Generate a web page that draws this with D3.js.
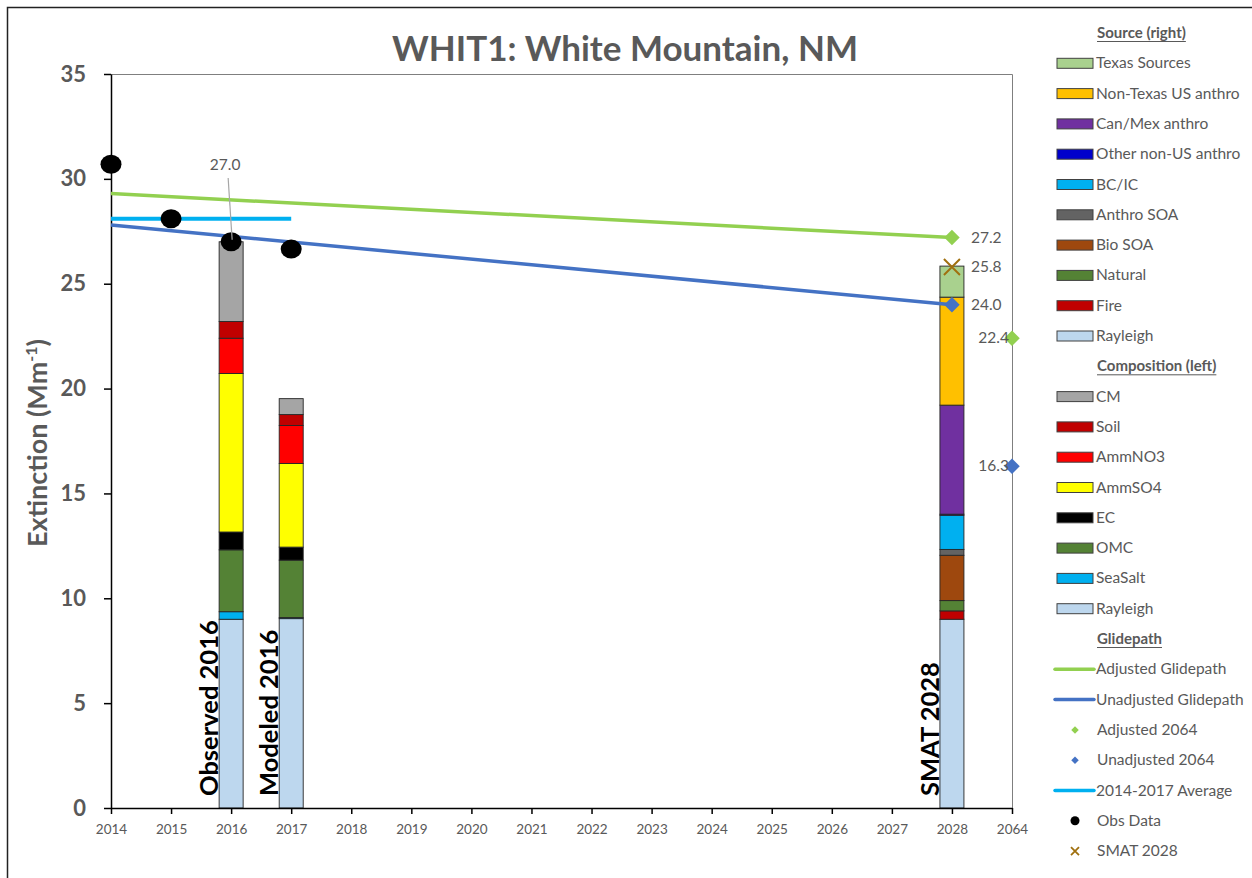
<!DOCTYPE html>
<html><head><meta charset="utf-8">
<script src="https://cdn.jsdelivr.net/npm/d3@7"></script>
<style>body{margin:0;background:#fff;} svg{display:block;} text{font-family:Lato,"Open Sans",sans-serif;}</style>
</head><body><svg id="c" width="1252" height="878"></svg>
<script>
// ---- data ----
const categories = ["2014","2015","2016","2017","2018","2019","2020","2021","2022","2023","2024","2025","2026","2027","2028","2064"];
const yTicks = [0,5,10,15,20,25,30,35];

const compNames = ["Rayleigh","SeaSalt","OMC","EC","AmmSO4","AmmNO3","Soil","CM"];
const compColors = ["#BDD7EE","#00B0F0","#548235","#000000","#FFFF00","#FF0000","#C00000","#A5A5A5"];
const observed2016 = [9.0, 0.36, 2.95, 0.85, 7.56, 1.68, 0.8, 3.8];
const modeled2016 = [9.03, 0.05, 2.74, 0.62, 3.99, 1.81, 0.52, 0.76];

const srcNames = ["Rayleigh","Fire","Natural","Bio SOA","Anthro SOA","BC/IC","Other non-US anthro","Can/Mex anthro","Non-Texas US anthro","Texas Sources"];
const srcColors = ["#BDD7EE","#C00000","#548235","#9E480E","#636363","#00B0F0","#0000CC","#7030A0","#FFC000","#A9D18E"];
const smat2028 = [9.0, 0.4, 0.49, 2.16, 0.28, 1.63, 0.05, 5.2, 5.15, 1.48];

const barCats = ["2016","2017","2028"];
const barLabels = ["Observed 2016","Modeled 2016","SMAT 2028"];

const obsYears = ["2014","2015","2016","2017"];
const obsValues = [30.7, 28.1, 27.0, 26.65];

const avgYears = ["2014","2017"];
const avgValues = [28.1, 28.1];

const glideYears = ["2014","2028"];
const adjustedGlide = [29.3, 27.2];
const unadjustedGlide = [27.8, 24.0];

const adjusted2064 = 22.4;
const unadjusted2064 = 16.3;
const smatTotal = 25.8;

// ---- setup ----
const svg = d3.select("#c");
const gray = "#595959";
const x = d3.scalePoint().domain(categories).range([111, 1012]);
const y = d3.scaleLinear().domain([0, 35]).range([808, 74]);

// outer frame (left/top visible)
svg.append("path").attr("d","M7.5,878 V7.5 H1252").attr("fill","none").attr("stroke","#222").attr("stroke-width",1.5);

// title
svg.append("text").attr("x",625).attr("y",61).attr("text-anchor","middle")
  .attr("font-size",35).attr("font-weight","bold").attr("fill",gray).text("WHIT1: White Mountain, NM");

// plot border top and right
svg.append("path").attr("d",`M${x("2014")},${y(35)+0.5} H${x("2064")+0.5} V${y(0)}`).attr("fill","none").attr("stroke","#7f7f7f").attr("stroke-width",1);

// bars
const bw = 24;
function stack(vals){ let c=0; return vals.map(v=>{const s={y0:c,y1:c+v}; c+=v; return s;}); }
const barData = [
  {cat:"2016", vals:observed2016, colors:compColors},
  {cat:"2017", vals:modeled2016, colors:compColors},
  {cat:"2028", vals:smat2028, colors:srcColors}
];
barData.forEach(b=>{
  const st = stack(b.vals);
  svg.append("g").selectAll("rect").data(st).join("rect")
    .attr("x", x(b.cat)-bw/2).attr("width", bw)
    .attr("y", d=>y(d.y1)).attr("height", d=>y(d.y0)-y(d.y1))
    .attr("fill", (d,i)=>b.colors[i]).attr("stroke","#262626").attr("stroke-width",0.9);
});

// rotated bar labels
barCats.forEach((c,i)=>{
  svg.append("text").attr("transform",`translate(${x(c)-13},796) rotate(-90)`)
    .attr("font-size",25.5).attr("font-weight","bold").attr("fill","#000").text(barLabels[i]);
});

// axes
const yAxis = d3.axisLeft(y).tickValues(yTicks).tickSize(7).tickSizeOuter(0);
const gy = svg.append("g").attr("transform",`translate(${x("2014")},0)`).call(yAxis);
gy.select(".domain").attr("stroke","#000").attr("stroke-width",1.5);
gy.selectAll(".tick line").attr("stroke","#000").attr("stroke-width",1.5);
gy.selectAll(".tick text").attr("font-size",22).attr("font-weight","bold").attr("fill",gray).attr("x",-25).attr("font-family","Lato,sans-serif");

const xAxis = d3.axisBottom(x).tickSize(6).tickSizeOuter(0);
const gx = svg.append("g").attr("transform",`translate(0,${y(0)})`).call(xAxis);
gx.select(".domain").attr("stroke","#000").attr("stroke-width",1.5);
gx.selectAll(".tick line").attr("stroke","#000").attr("stroke-width",1.5);
gx.selectAll(".tick text").attr("font-size",13.5).attr("fill",gray).attr("dy","1.25em").attr("font-family","Lato,sans-serif");

// y axis title
const yt = svg.append("text").attr("transform","translate(47,443) rotate(-90)").attr("text-anchor","middle")
  .attr("font-size",27).attr("font-weight","bold").attr("fill",gray);
yt.append("tspan").text("Extinction (Mm");
yt.append("tspan").attr("font-size",16).attr("dy",-10).text("-1");
yt.append("tspan").attr("dy",10).text(")");

// lines
const line = d3.line().x(d=>x(d[0])).y(d=>y(d[1]));
svg.append("path").datum(glideYears.map((c,i)=>[c,adjustedGlide[i]])).attr("d",line)
  .attr("fill","none").attr("stroke","#92D050").attr("stroke-width",3.5);
svg.append("path").datum(glideYears.map((c,i)=>[c,unadjustedGlide[i]])).attr("d",line)
  .attr("fill","none").attr("stroke","#4472C4").attr("stroke-width",3.5);
svg.append("path").datum(avgYears.map((c,i)=>[c,avgValues[i]])).attr("d",line)
  .attr("fill","none").attr("stroke","#00B0F0").attr("stroke-width",4);

function diam(cx, cy, size, color){
  svg.append("path").attr("d", d3.symbol().type(d3.symbolSquare).size(size)()).attr("transform",`translate(${cx},${cy}) rotate(45)`).attr("fill",color);
}
diam(x("2028"), y(adjustedGlide[1]), 120, "#92D050");
diam(x("2028"), y(unadjustedGlide[1]), 120, "#4472C4");
diam(x("2064"), y(adjusted2064), 120, "#92D050");
diam(x("2064"), y(unadjusted2064), 120, "#4472C4");

// SMAT x marker
const sx = x("2028"), sy = y(smatTotal);
svg.append("path").attr("d",`M${sx-8},${sy-8}L${sx+8},${sy+8}M${sx+8},${sy-8}L${sx-8},${sy+8}`)
  .attr("stroke","#A0700F").attr("stroke-width",2);

// obs data points
svg.append("g").selectAll("ellipse").data(obsYears.map((c,i)=>[c,obsValues[i]])).join("ellipse")
  .attr("cx",d=>x(d[0])).attr("cy",d=>y(d[1])).attr("rx",10.5).attr("ry",9.5).attr("fill","#000");

// data labels
svg.append("line").attr("x1",x("2016")-3).attr("y1",178).attr("x2",x("2016")+1).attr("y2",y(obsValues[2])-2)
  .attr("stroke","#a6a6a6").attr("stroke-width",1.2);
svg.append("text").attr("x",x("2016")-6).attr("y",170).attr("text-anchor","middle").attr("font-size",15.5).attr("fill",gray).text(obsValues[2].toFixed(1));
[adjustedGlide[1], smatTotal, unadjustedGlide[1]].forEach(v=>{
  svg.append("text").attr("x",x("2028")+19).attr("y",y(v)+5).attr("font-size",15.5).attr("fill",gray).text(v.toFixed(1));
});
[adjusted2064, unadjusted2064].forEach(v=>{
  svg.append("text").attr("x",x("2064")-3).attr("y",y(v)+5).attr("text-anchor","end").attr("font-size",15.5).attr("fill",gray).text(v.toFixed(1));
});

// legend
const legendItems = [
  {t:"h", n:"Source (right)"},
  ...srcNames.slice().reverse().map((n,i)=>({t:"r", n, c:srcColors[srcColors.length-1-i]})),
  {t:"h", n:"Composition (left)"},
  ...compNames.slice().reverse().map((n,i)=>({t:"r", n, c:compColors[compColors.length-1-i]})),
  {t:"h", n:"Glidepath"},
  {t:"l", n:"Adjusted Glidepath", c:"#92D050"},
  {t:"l", n:"Unadjusted Glidepath", c:"#4472C4"},
  {t:"d", n:"Adjusted 2064", c:"#92D050"},
  {t:"d", n:"Unadjusted 2064", c:"#4472C4"},
  {t:"l", n:"2014-2017 Average", c:"#00B0F0"},
  {t:"o", n:"Obs Data", c:"#000"},
  {t:"x", n:"SMAT 2028", c:"#A0700F"}
];
const lg = svg.append("g");
legendItems.forEach((it,i)=>{
  const cy = 33 + i*30.3;
  const g = lg.append("g").attr("transform",`translate(0,${cy})`);
  if(it.t==="h"){
    const tx = g.append("text").attr("x",1097).attr("y",5).attr("font-size",15).attr("font-weight","bold").attr("fill",gray).text(it.n);
    const w = tx.node().getComputedTextLength();
    g.append("line").attr("x1",1097).attr("x2",1097+w).attr("y1",8.5).attr("y2",8.5).attr("stroke",gray).attr("stroke-width",1);
    return;
  }
  if(it.t==="r") g.append("rect").attr("x",1057).attr("y",-5).attr("width",36).attr("height",10).attr("fill",it.c).attr("stroke","#404040").attr("stroke-width",1);
  if(it.t==="l") g.append("line").attr("x1",1055).attr("x2",1094).attr("y1",0).attr("y2",0).attr("stroke",it.c).attr("stroke-width",3.5).attr("stroke-linecap","round");
  if(it.t==="d") g.append("path").attr("d",d3.symbol().type(d3.symbolSquare).size(28)()).attr("transform","translate(1075,0) rotate(45)").attr("fill",it.c);
  if(it.t==="o") g.append("circle").attr("cx",1075).attr("cy",0).attr("r",4.5).attr("fill",it.c);
  if(it.t==="x") g.append("path").attr("d","M1071,-4L1079,4M1079,-4L1071,4").attr("stroke",it.c).attr("stroke-width",1.8);
  g.append("text").attr("x",(it.t==="r"||it.t==="l")?1096:1097).attr("y",5).attr("font-size",15.5).attr("fill",gray).text(it.n);
});
</script></body></html>
